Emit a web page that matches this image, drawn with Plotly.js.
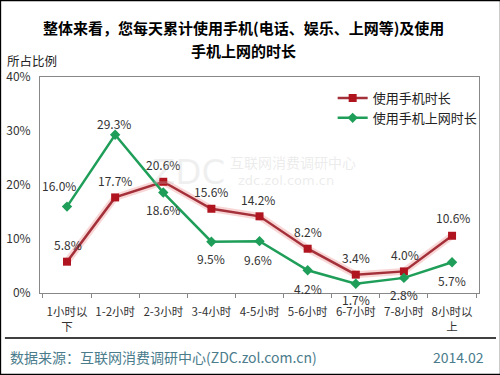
<!DOCTYPE html>
<html><head><meta charset="utf-8">
<script src="https://cdn.plot.ly/plotly-3.0.1.min.js"></script>
<style>html,body{margin:0;padding:0;background:#fff}#c{width:500px;height:375px}</style>
</head><body><div id="c"></div>
<script>
const categories = ["1小时以<br>下","1-2小时","2-3小时","3-4小时","4-5小时","5-6小时","6-7小时","7-8小时","8小时以<br>上"];
const phoneTime = [5.8, 17.7, 20.6, 15.6, 14.2, 8.2, 3.4, 4.0, 10.6];
const netTime = [16.0, 29.3, 18.6, 9.5, 9.6, 4.2, 1.7, 2.8, 5.7];
const seriesNames = ["使用手机时长", "使用手机上网时长"];
const yTicks = [0, 10, 20, 30, 40];
const yTickLabels = ["0%", "10%", "20%", "30%", "40%"];
const titleLines = ["整体来看，您每天累计使用手机(电话、娱乐、上网等)及使用", "手机上网的时长"];

const CJK = '"Noto Sans CJK SC", "Noto Sans", sans-serif';
const red = '#B0141E', redLine = '#A4303A', green = '#1E9E58';

const phoneShift = [[1,-17],[0,-17],[0,-17],[0,-17],[-2,-17],[0,-17],[0,-17],[1,-17],[1,-18]];
const netShift = [[-8,-21],[-1,-11],[0,17],[0,17],[-2,18],[0,18],[0,16],[0,17],[0,18]];

const px = v => (v - 40) / 438;   // pixel x -> paper
const py = v => (293 - v) / 216;  // pixel y -> paper

const ann = [];
categories.forEach((c, i) => {
  ann.push({x: c, y: phoneTime[i], xref:'x', yref:'y', text: phoneTime[i].toFixed(1) + '%', showarrow:false,
    xshift: phoneShift[i][0], yshift: -phoneShift[i][1], font:{family:CJK, size:12, color:'#333'}});
  ann.push({x: c, y: netTime[i], xref:'x', yref:'y', text: netTime[i].toFixed(1) + '%', showarrow:false,
    xshift: netShift[i][0], yshift: -netShift[i][1], font:{family:CJK, size:12, color:'#333'}});
});
ann.push({xref:'paper', yref:'paper', x:px(243), y:py(27), xanchor:'center', yanchor:'middle', text:titleLines[0],
  showarrow:false, font:{family:CJK, size:15, color:'#000', weight:'bold'}});
ann.push({xref:'paper', yref:'paper', x:px(243), y:py(50), xanchor:'center', yanchor:'middle', text:titleLines[1],
  showarrow:false, font:{family:CJK, size:15, color:'#000', weight:'bold'}});
ann.push({xref:'paper', yref:'paper', x:px(5), y:py(61), xanchor:'left', yanchor:'middle',
  text:'所占比例', showarrow:false, font:{family:CJK, size:12.5, color:'#222'}});
// watermark
ann.push({xref:'paper', yref:'paper', x:px(150), y:py(172), xanchor:'left', yanchor:'middle',
  text:'ZDC', showarrow:false, font:{family:'DejaVu Sans', size:34, color:'rgba(200,200,200,0.28)'}});
ann.push({xref:'paper', yref:'paper', x:px(228), y:py(162), xanchor:'left', yanchor:'middle',
  text:'互联网消费调研中心', showarrow:false, font:{family:CJK, size:14, color:'rgba(190,190,190,0.3)'}});
ann.push({xref:'paper', yref:'paper', x:px(236), y:py(180), xanchor:'left', yanchor:'middle',
  text:'zdc.zol.com.cn', showarrow:false, font:{family:'DejaVu Sans', size:13, color:'rgba(190,190,190,0.3)'}});
// footer
ann.push({xref:'paper', yref:'paper', x:px(8), y:py(357), xanchor:'left', yanchor:'middle',
  text:'数据来源：互联网消费调研中心(ZDC.zol.com.cn)', showarrow:false, font:{family:CJK, size:14, color:'#4A7C8C'}});
ann.push({xref:'paper', yref:'paper', x:px(485), y:py(357), xanchor:'right', yanchor:'middle',
  text:'2014.02', showarrow:false, font:{family:CJK, size:14, color:'#4A7C8C'}});

const traces = [
  {x: categories, y: phoneTime, mode:'lines', line:{color:'rgba(230,90,90,0.25)', width:7}, hoverinfo:'skip', showlegend:false},
  {x: categories, y: phoneTime, name: seriesNames[0], mode:'lines+markers', line:{color:redLine, width:2.5},
   marker:{symbol:'square', size:8, color:red}},
  {x: categories, y: netTime, name: seriesNames[1], mode:'lines+markers', line:{color:green, width:2.5},
   marker:{symbol:'diamond', size:8, color:green}}
];

const layout = {
  width:500, height:375,
  margin:{l:40, r:21, t:77, b:82},
  paper_bgcolor:'#fff', plot_bgcolor:'#fff',
  xaxis:{type:'category', showgrid:false, showline:true, linecolor:'#888', linewidth:1, mirror:true,
    ticks:'outside', tickson:'boundaries', ticklen:4, tickcolor:'#888', tickangle:0, ticklabelstandoff:8,
    tickfont:{family:CJK, size:11.5, color:'#333'}, fixedrange:true},
  yaxis:{range:[0,40], tickvals:yTicks, ticktext:yTickLabels, showgrid:false, zeroline:false,
    showline:true, linecolor:'#888', linewidth:1, mirror:true, ticks:'', ticklabelstandoff:6,
    tickfont:{family:CJK, size:12, color:'#333'}},
  legend:{x:px(332), y:py(83), xanchor:'left', yanchor:'top', bgcolor:'rgba(0,0,0,0)', itemwidth:30,
    font:{family:CJK, size:13, color:'#222'}, tracegroupgap:0},
  showlegend:true,
  annotations: ann,
  shapes:[
    {type:'line', xref:'paper', yref:'paper', x0:px(5), x1:px(495), y0:py(338), y1:py(338),
     line:{color:'#000', width:1.5}},
    {type:'rect', xref:'paper', yref:'paper', x0:px(0.5), x1:px(499.5), y0:py(0.5), y1:py(374.5),
     line:{color:'#000', width:1.5}}
  ]
};
Plotly.newPlot('c', traces, layout, {displayModeBar:false, staticPlot:true});
</script></body></html>
